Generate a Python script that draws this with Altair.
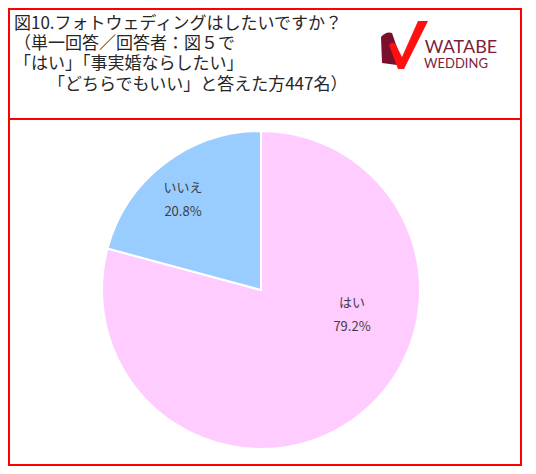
import altair as alt
import pandas as pd
import urllib.parse

# ---- data ----
categories = ["はい", "いいえ"]
values = [79.2, 20.8]
labels_pct = ["79.2%", "20.8%"]
slice_order = [0, 1]
slice_colors = ["#FFCCFF", "#99CCFF"]

title_lines = [
    "図10.フォトウェディングはしたいですか？",
    "（単一回答／回答者：図５で",
    "「はい」「事実婚ならしたい」",
    "「どちらでもいい」と答えた方447名）",
]
logo_lines = ["WATABE", "WEDDING"]

df = pd.DataFrame({"category": categories, "value": values,
                   "pct": labels_pct, "order": slice_order})

W, H = 520, 458
JP = "Noto Sans CJK JP"
RED = "#FF0000"

base = alt.Chart(df)

pie = base.mark_arc(outerRadius=159, stroke="white", strokeWidth=2).encode(
    theta=alt.Theta("value:Q", stack=True),
    color=alt.Color("category:N", scale=alt.Scale(domain=categories, range=slice_colors), legend=None),
    order=alt.Order("order:Q"),
    x=alt.value(253), y=alt.value(282),
)

def pie_label(cat, field, x, y):
    return base.transform_filter(alt.datum.category == cat).mark_text(
        font=JP, fontSize=13, color="#404040"
    ).encode(text=f"{field}:N", x=alt.value(x), y=alt.value(y))

lbls = [
    pie_label("いいえ", "category", 175, 180),
    pie_label("いいえ", "pct", 175, 204),
    pie_label("はい", "category", 344, 295),
    pie_label("はい", "pct", 344, 319),
]

one = pd.DataFrame({"a": [0]})

def txt(s, x, y, size, color, font=JP, align="left"):
    return alt.Chart(one).mark_text(
        text=s, font=font, fontSize=size, color=color, align=align, baseline="middle"
    ).encode(x=alt.value(x), y=alt.value(y))

title_x = [6, 6, 6, 40]
title_y = [16, 36, 56, 77]
titles = [txt(s, x, y, 17, "#262626") for s, x, y in zip(title_lines, title_x, title_y)]

logo_txt = [
    txt(logo_lines[0], 453, 40, 18, "#7B1E3C", font="Lato", align="center"),
    txt(logo_lines[1], 448, 56, 13, "#7B1E3C", font="Lato", align="center"),
]

svg = (
    '<svg xmlns="http://www.w3.org/2000/svg" width="50" height="50" viewBox="0 0 50 50">'
    '<path d="M1,16 Q6,10 12,12 L21,38 L17,44 L2,42 Z" fill="#7A0F2E"/>'
    '<path d="M38,0 L48,0 L24,48 L18,48 L9,24 Q13,19 16,24 L22,36 Z" fill="#FF1010"/>'
    '</svg>'
)
url = "data:image/svg+xml;charset=utf-8," + urllib.parse.quote(svg)
logo_img = alt.Chart(one).mark_image(width=50, height=50, align="left", baseline="top").encode(
    url=alt.value(url), x=alt.value(372), y=alt.value(13)
)

border = alt.Chart(one).mark_rect(fill="white", fillOpacity=0, stroke=RED, strokeWidth=2).encode(
    x=alt.value(1), x2=alt.value(513), y=alt.value(1), y2=alt.value(457)
)
divider = alt.Chart(one).mark_rule(color=RED, strokeWidth=2).encode(
    x=alt.value(1), x2=alt.value(513), y=alt.value(111)
)

chart = alt.layer(pie, *lbls, *titles, *logo_txt, logo_img, border, divider).properties(
    width=W, height=H, autosize="none", padding=0
).configure_view(stroke=None)

chart.save("out.html", embed_options={"renderer": "svg", "actions": False})
